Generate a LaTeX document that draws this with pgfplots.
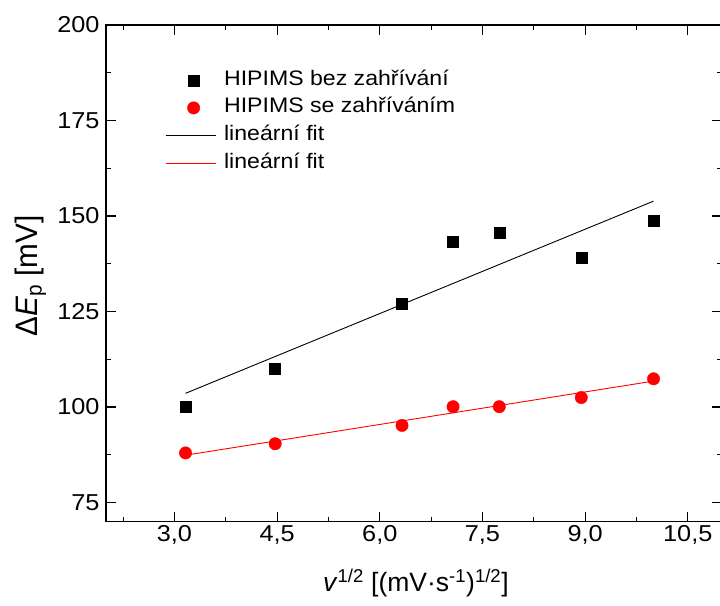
\documentclass[border=0pt]{standalone}
\usepackage{fontspec}
\setmainfont[FakeStretch=1.1]{Liberation Sans}
\newfontfamily\plainfont{Liberation Sans}
\usepackage{pgfplots}
\pgfplotsset{compat=1.18}
\pgfplotsset{
  markimg/.style={legend image code/.code={\draw[mark repeat=2,mark phase=2,##1] plot coordinates {(0bp,0bp) (28bp,0bp) (50bp,0bp)};}},
  lineimg/.style={legend image code/.code={\draw[##1] (0bp,0bp) -- (50bp,0bp);}},
}
\begin{document}
\begin{tikzpicture}
\begin{axis}[
  scale only axis,
  width=616bp, height=496.7bp,
  xmin=2, xmax=11, ymin=70, ymax=200,
  xtick={3,4.5,6,7.5,9,10.5},
  xticklabels={{3,0},{4,5},{6,0},{7,5},{9,0},{10,5}},
  ytick={75,100,125,150,175,200},
  minor xtick={2.25,3.75,5.25,6.75,8.25,9.75},
  minor ytick={87.5,112.5,137.5,162.5,187.5},
  tick align=inside, tick pos=both,
  major tick length=10bp, minor tick length=5bp,
  axis line style={line width=1.2bp},
  every tick/.style={black, line width=1.2bp},
  /pgf/number format/assume math mode=true,
  tick label style={font=\fontsize{23bp}{27bp}\selectfont},
  yticklabel style={xshift=-3bp},
  xlabel={\textit{v}\textsuperscript{1/2} [(mV·s\textsuperscript{-1})\textsuperscript{1/2}]},
  ylabel={Δ\textit{E}\textsubscript{p} [mV]},
  xlabel style={font=\plainfont\fontsize{26.5bp}{30bp}\selectfont, at={(axis description cs:0.503,-0.1234)}, anchor=center},
  ylabel style={font=\fontsize{27bp}{31bp}\selectfont, at={(axis description cs:-0.1226,0.4947)}, anchor=center, yscale=1.15},
  legend style={draw=none, fill=none, at={(axis description cs:0.0958,0.9094)}, anchor=north west,
    font=\fontsize{21bp}{25bp}\selectfont, nodes={inner sep=0pt, text height=15bp, text depth=5bp}, inner sep=0pt,
    row sep=7.7bp,
    /tikz/every odd column/.append style={column sep=8bp}},
  legend cell align=left,
]
\addplot[only marks, mark=square*, mark size=5.5bp, black, markimg]
  coordinates {(3.162,100.0) (4.472,110.0) (6.325,127.0) (7.071,143.2) (7.746,145.6) (8.944,139.2) (10.0,148.9)};
\addlegendentry{HIPIMS bez zahřívání}
\addplot[only marks, mark=*, mark size=6.2bp, red, mark options={fill=red, draw=red}, markimg]
  coordinates {(3.162,88.0) (4.472,90.4) (6.325,95.2) (7.071,100.1) (7.746,100.1) (8.944,102.5) (10.0,107.4)};
\addlegendentry{HIPIMS se zahříváním}
\addplot[black, line width=0.9bp, no marks, lineimg]
  coordinates {(3.162,103.6) (10.0,153.9)};
\addlegendentry{lineární fit}
\addplot[red, line width=0.9bp, no marks, lineimg]
  coordinates {(3.162,87.4) (10.0,106.8)};
\addlegendentry{lineární fit}
\coordinate (O) at (rel axis cs:0,0);
\end{axis}
\pgfresetboundingbox
\path (O) ++(-106bp,-84.3bp) rectangle ++(720bp,606bp);
\end{tikzpicture}
\end{document}
